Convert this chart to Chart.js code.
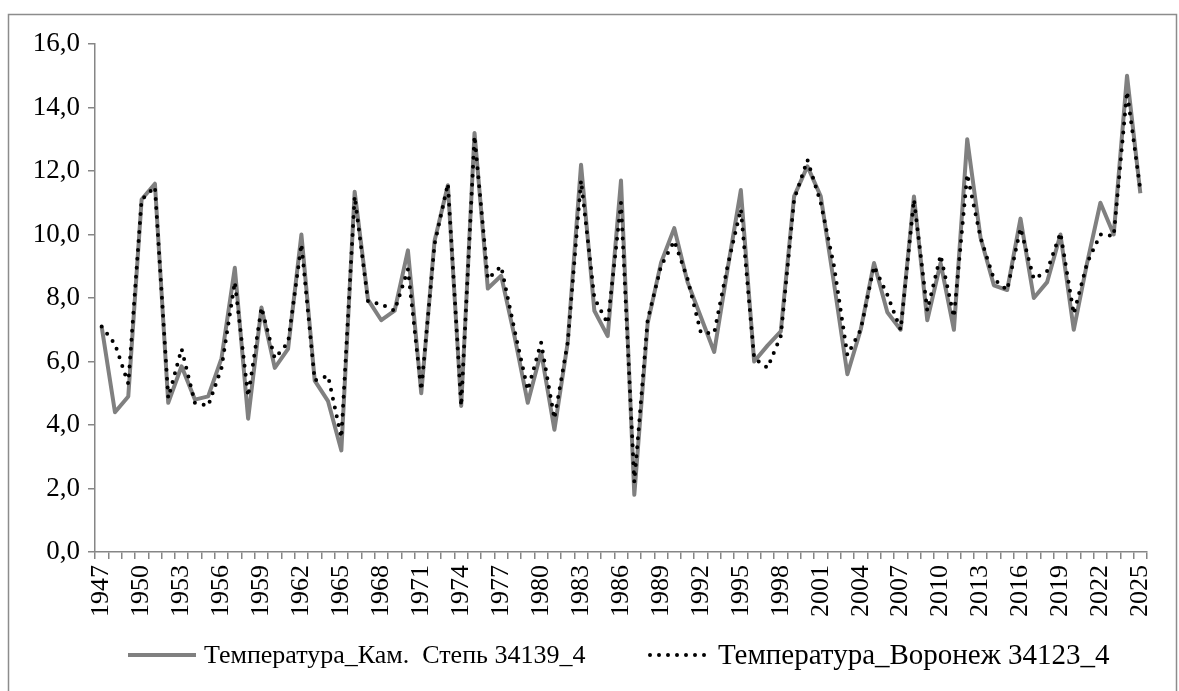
<!DOCTYPE html>
<html>
<head>
<meta charset="utf-8">
<script src="https://cdn.jsdelivr.net/npm/chart.js@4.4.1/dist/chart.umd.min.js"></script>
<style>
  html, body { margin: 0; padding: 0; background: #ffffff; }
  #wrap { width: 1179px; height: 691px; position: relative; }
</style>
</head>
<body>
<div id="wrap"><canvas id="c" width="1179" height="691"></canvas></div>
<script>
const years = [];
for (let y = 1947; y <= 2025; y++) years.push(String(y));

const seriesNames = ['Температура_Кам.  Степь 34139_4', 'Температура_Воронеж 34123_4'];

const kamStep = [
  7.1, 4.4, 4.9, 11.1, 11.6, 4.7, 5.85, 4.8, 4.9, 6.1,
  8.95, 4.2, 7.7, 5.8, 6.4, 10.0, 5.4, 4.75, 3.2, 11.35,
  7.95, 7.3, 7.6, 9.5, 5.0, 9.8, 11.55, 4.6, 13.2, 8.3,
  8.7, 6.8, 4.7, 6.3, 3.85, 6.6, 12.2, 7.6, 6.8, 11.7,
  1.8, 7.2, 9.1, 10.2, 8.5, 7.4, 6.3, 8.9, 11.4, 6.0,
  6.5, 6.95, 11.2, 12.15, 11.2, 8.45, 5.6, 7.0, 9.1, 7.55,
  7.0, 11.2, 7.3, 9.1, 7.0, 13.0, 9.9, 8.4, 8.25, 10.5,
  8.0, 8.5, 10.0, 7.0, 9.1, 11.0, 10.0, 15.0, 11.3
];

const voronezh = [
  7.1, 6.55, 5.3, 11.1, 11.5, 4.85, 6.4, 4.7, 4.6, 5.8,
  8.5, 4.9, 7.7, 6.1, 6.6, 9.7, 5.4, 5.55, 3.6, 11.2,
  7.9, 7.8, 7.6, 8.9, 5.1, 9.7, 11.6, 4.6, 13.1, 8.6,
  9.0, 7.0, 5.1, 6.6, 4.2, 6.6, 11.7, 8.0, 7.2, 11.0,
  2.2, 7.3, 9.0, 9.8, 8.6, 6.9, 6.9, 9.0, 10.8, 6.1,
  5.8, 6.8, 11.1, 12.35, 11.0, 9.0, 6.2, 7.0, 9.0, 8.1,
  7.0, 11.1, 7.6, 9.35, 7.4, 11.9, 9.9, 8.6, 8.25, 10.2,
  8.6, 8.85, 10.05, 7.5, 9.1, 10.0, 9.95, 14.5, 11.4
];

const yTicks = [0, 2, 4, 6, 8, 10, 12, 14, 16];

const FONT = "'Liberation Serif', 'Times New Roman', Times, serif";
const FONT_SIZE = 26;
const AXIS_COLOR = '#868686';
const GRAY = '#808080';

const framePlugin = {
  id: 'frame',
  beforeDraw(chart) {
    const ctx = chart.ctx;
    ctx.save();
    ctx.fillStyle = '#ffffff';
    ctx.fillRect(0, 0, chart.width, chart.height);
    ctx.strokeStyle = '#8c8c8c';
    ctx.lineWidth = 1.5;
    ctx.beginPath();
    ctx.moveTo(8.5, chart.height + 5);
    ctx.lineTo(8.5, 14.5);
    ctx.lineTo(1176.5, 14.5);
    ctx.lineTo(1176.5, chart.height + 5);
    ctx.stroke();
    ctx.restore();
  }
};

const legendPlugin = {
  id: 'customLegend',
  afterDraw(chart) {
    const ctx = chart.ctx;
    const ds = chart.data.datasets;
    const yMid = 655;
    ctx.save();
    ctx.fillStyle = '#000000';
    ctx.textBaseline = 'middle';
    ctx.textAlign = 'left';
    // item 1
    ctx.strokeStyle = ds[0].borderColor;
    ctx.lineWidth = ds[0].borderWidth;
    ctx.lineCap = 'butt';
    ctx.setLineDash([]);
    ctx.beginPath(); ctx.moveTo(128, yMid); ctx.lineTo(196, yMid); ctx.stroke();
    ctx.font = FONT_SIZE + 'px ' + FONT;
    ctx.fillText(ds[0].label, 204, yMid + 1);
    // item 2
    ctx.strokeStyle = ds[1].borderColor;
    ctx.lineWidth = ds[1].borderWidth;
    ctx.lineCap = 'round';
    ctx.setLineDash(ds[1].borderDash);
    ctx.beginPath(); ctx.moveTo(650, yMid); ctx.lineTo(710, yMid); ctx.stroke();
    ctx.setLineDash([]);
    ctx.font = '29px ' + FONT;
    ctx.fillText(ds[1].label, 718, yMid + 1);
    ctx.restore();
  }
};

new Chart(document.getElementById('c'), {
  type: 'line',
  data: {
    labels: years,
    datasets: [
      {
        label: seriesNames[0],
        data: kamStep,
        borderColor: GRAY,
        borderWidth: 4,
        borderJoinStyle: 'round',
        pointRadius: 0,
        tension: 0,
        fill: false,
        order: 1
      },
      {
        label: seriesNames[1],
        data: voronezh,
        borderColor: '#000000',
        borderWidth: 4,
        borderDash: [0, 9],
        borderCapStyle: 'round',
        borderJoinStyle: 'round',
        pointRadius: 0,
        tension: 0,
        fill: false,
        order: 0
      }
    ]
  },
  options: {
    responsive: false,
    animation: false,
    devicePixelRatio: 1,
    layout: { padding: { left: 8, right: 32, top: 44, bottom: 60 } },
    plugins: {
      legend: { display: false },
      tooltip: { enabled: false },
      title: { display: false }
    },
    scales: {
      x: {
        type: 'category',
        offset: true,
        afterFit(scale) { scale.height = 79; },
        border: { display: true, color: AXIS_COLOR, width: 1.5 },
        grid: {
          offset: true,
          drawOnChartArea: false,
          drawTicks: true,
          tickLength: 7,
          color: AXIS_COLOR,
          lineWidth: 1.5
        },
        ticks: {
          autoSkip: false,
          minRotation: 90,
          maxRotation: 90,
          padding: 6,
          color: '#000000',
          font: { family: FONT, size: FONT_SIZE },
          callback(value, index) {
            return index % 3 === 0 ? years[index] : '';
          }
        }
      },
      y: {
        min: 0,
        max: 16,
        afterFit(scale) { scale.width = 87; },
        afterBuildTicks(scale) { scale.ticks = yTicks.map(v => ({ value: v })); },
        border: { display: true, color: AXIS_COLOR, width: 1.5 },
        grid: {
          drawOnChartArea: false,
          drawTicks: true,
          tickLength: 7,
          color: AXIS_COLOR,
          lineWidth: 1.5
        },
        ticks: {
          padding: 8,
          color: '#000000',
          font: { family: FONT, size: 27 },
          callback(value) { return value.toFixed(1).replace('.', ','); }
        }
      }
    }
  },
  plugins: [framePlugin, legendPlugin]
});
</script>
</body>
</html>
